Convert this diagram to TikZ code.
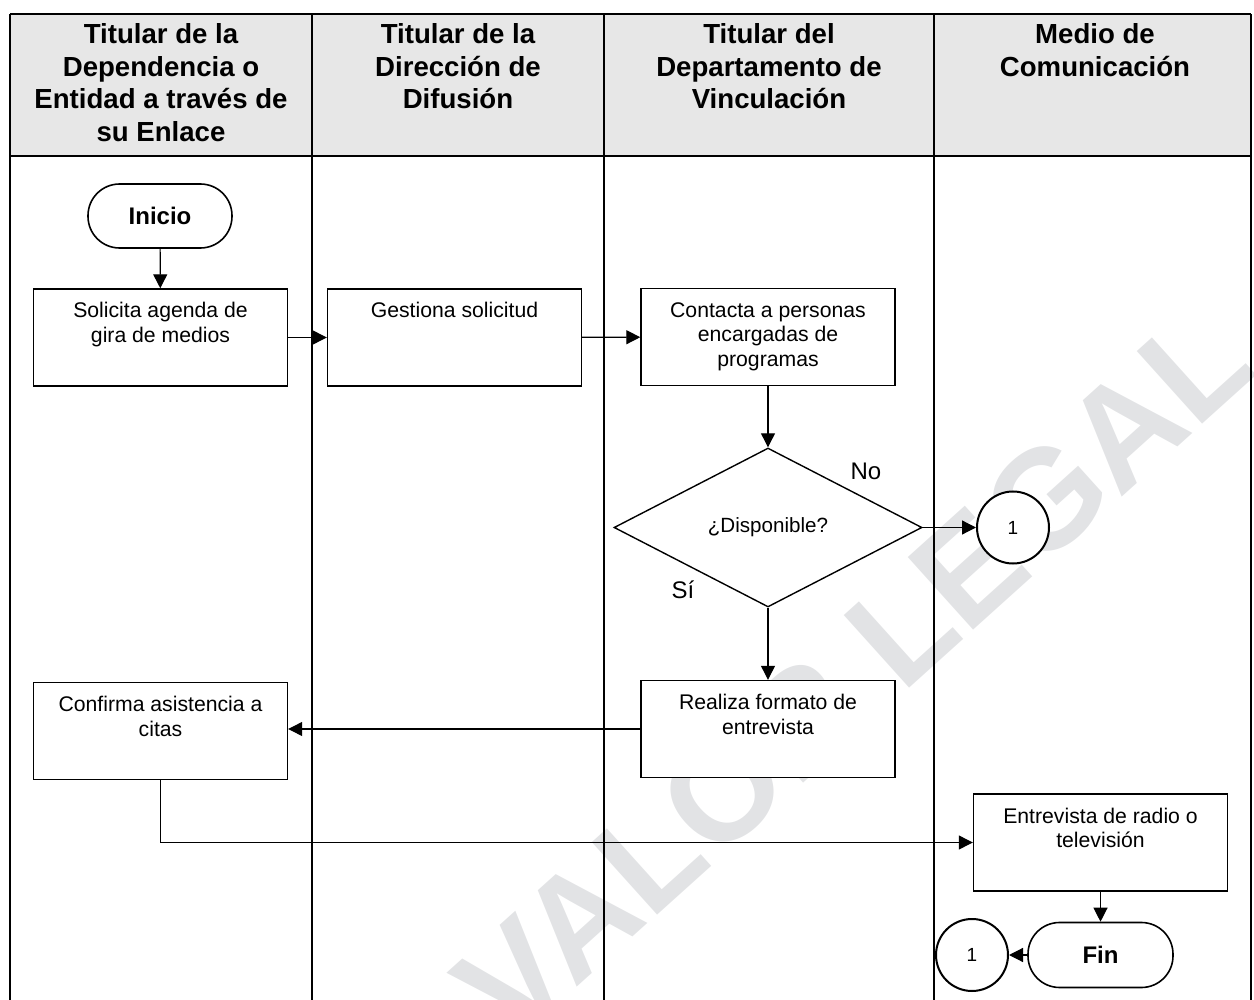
\documentclass[tikz,border=0pt]{standalone}
\usepackage{fontspec}
\setmainfont{Liberation Sans}
\usetikzlibrary{arrows.meta,shapes.geometric}
\definecolor{hdrgray}{RGB}{231,231,231}
\definecolor{wmgray}{RGB}{226,227,229}
\newcommand{\boxtxt}[1]{\parbox[c][48.5pt][t]{127pt}{\centering\rule{0pt}{14.5pt}#1}}
\newcommand{\hdrtxt}[1]{\parbox[t]{145pt}{\centering\rule{0pt}{14.5pt}#1}}
\begin{document}
\begin{tikzpicture}[x=0.5pt,y=-0.5pt,
  proc/.style={draw, line width=0.7pt, fill=white, inner sep=0pt, font=\fontsize{10.6}{12.25}\selectfont},
  term/.style={draw, line width=0.8pt, fill=white, rounded corners=15.8pt, minimum width=72pt, minimum height=32pt, inner sep=0pt, font=\bfseries\fontsize{12}{14}\selectfont},
  decision/.style={diamond, draw, line width=0.7pt, fill=white, minimum width=154pt, minimum height=79.5pt, inner sep=0pt, font=\fontsize{10.3}{12}\selectfont},
  conn/.style={circle, draw, line width=1pt, fill=white, minimum size=36pt, inner sep=0pt, font=\fontsize{9.5}{11}\selectfont},
  flow/.style={draw, line width=0.6pt, -{Triangle[length=7pt,width=7pt]}},
  lane/.style={line width=1.25pt},
  hdr/.style={inner sep=0pt, anchor=north, font=\bfseries\fontsize{13.8}{16.35}\selectfont},
  lbl/.style={inner sep=0pt, font=\fontsize{12}{14}\selectfont}
]
\useasboundingbox (0,0) rectangle (1254,1000);
% header background
\fill[hdrgray] (10,14) rectangle (1251,156);
% watermark
\begin{scope}
  \clip (0,0) rectangle (1254,1000);
  \node[rotate=42, text=wmgray, inner sep=0pt, font=\bfseries\fontsize{71}{71}\selectfont] (wm) at (853,673) {VALOR LEGAL};
\end{scope}
% lanes
\draw[lane] (10,14) -- (1251,14);
\draw[lane] (10,156) -- (1251,156);
\draw[lane] (10,14) -- (10,1000);
\draw[lane] (312,14) -- (312,1000);
\draw[lane] (604,14) -- (604,1000);
\draw[lane] (934,14) -- (934,1000);
\draw[lane] (1251,14) -- (1251,1000);
% headers
\node[hdr] (h1) at (161,14) {\hdrtxt{Titular de la\\Dependencia o\\Entidad a través de\\su Enlace}};
\node[hdr] (h2) at (458,14) {\hdrtxt{Titular de la\\Dirección de\\Difusión}};
\node[hdr] (h3) at (769,14) {\hdrtxt{Titular del\\Departamento de\\Vinculación}};
\node[hdr] (h4) at (1095,14) {\hdrtxt{Medio de\\Comunicación}};
% nodes
\node[term] (ini) at (160,216) {Inicio};
\node[proc] (sol) at (160.5,337.5) {\boxtxt{Solicita agenda de\\gira de medios}};
\node[proc] (ges) at (454.5,337.5) {\boxtxt{Gestiona solicitud}};
\node[proc] (con) at (768,337) {\boxtxt{Contacta a personas\\encargadas de\\programas}};
\node[decision] (dec) at (768,527.5) {¿Disponible?};
\node[conn] (c1) at (1013,527.5) {1};
\node[proc] (rea) at (768,729) {\boxtxt{Realiza formato de\\entrevista}};
\node[proc] (conf) at (160.5,731) {\boxtxt{Confirma asistencia a\\citas}};
\node[proc] (ent) at (1100.5,842.5) {\boxtxt{Entrevista de radio o\\televisión}};
\node[term, minimum width=72.5pt, minimum height=32.5pt] (fin) at (1100.5,955) {Fin};
\node[conn] (c2) at (972,955) {1};
\node[lbl] (no) at (866,471) {No};
\node[lbl] (si) at (683,590) {Sí};
% connectors
\draw[flow] (ini) -- (sol);
\draw[flow] (sol) -- (ges);
\draw[flow] (ges) -- (con);
\draw[flow] (con) -- (dec);
\draw[flow] (dec) -- (c1);
\draw[flow] (dec) -- (rea);
\draw[flow] (rea.west) -- (rea.west -| conf.east);
\draw[flow] (conf.south) |- (ent.west);
\draw[flow] (ent) -- (fin);
\draw[flow] (fin) -- (c2);
\end{tikzpicture}
\end{document}
